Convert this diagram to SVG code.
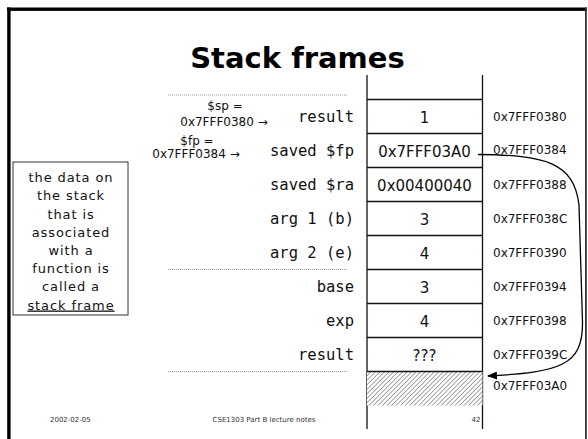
<svg xmlns="http://www.w3.org/2000/svg" width="588" height="439" viewBox="0 0 588 439">
  <defs>
    <pattern id="hatch" width="3.2" height="3.2" patternUnits="userSpaceOnUse" patternTransform="rotate(45)">
      <rect width="3.2" height="3.2" fill="#ffffff"/>
      <line x1="0" y1="0" x2="0" y2="3.2" stroke="#808080" stroke-width="1.4"/>
    </pattern>
    <marker id="arrowhead" markerWidth="10" markerHeight="8" refX="9" refY="4" orient="auto" markerUnits="userSpaceOnUse">
      <path d="M0,0 L10,4 L0,8 Z" fill="#000"/>
    </marker>
  </defs>
  <style>
    .title { font-family: "DejaVu Sans", sans-serif; font-weight: bold; font-size: 29px; fill: #000; }
    .val { font-family: "DejaVu Sans", sans-serif; font-size: 15px; fill: #111; text-anchor: middle; }
    .lbl { font-family: "DejaVu Sans Mono", monospace; font-size: 15.5px; fill: #111; text-anchor: end; }
    .addr { font-family: "DejaVu Sans", sans-serif; font-size: 12px; fill: #111; }
    .ptr { font-family: "DejaVu Sans", sans-serif; font-size: 12px; fill: #111; text-anchor: middle; }
    .note { font-family: "DejaVu Sans", sans-serif; font-size: 13px; letter-spacing: 0.9px; fill: #111; text-anchor: middle; }
    .foot { font-family: "DejaVu Sans", sans-serif; font-size: 7px; fill: #333; }
    .dots { stroke: #999; stroke-width: 1; stroke-dasharray: 1 1; }
  </style>

  <rect width="588" height="439" fill="#ffffff"/>

  <!-- slide frame -->
  <g id="frame">
    <rect x="7" y="7.5" width="580" height="3.4" fill="#000"/>
    <rect x="7.2" y="7.5" width="3.4" height="432" fill="#000"/>
    <rect x="585" y="7.5" width="1.8" height="432" fill="#333"/>
  </g>

  <text class="title" x="297.5" y="68" text-anchor="middle">Stack frames</text>

  <!-- stack column -->
  <g id="stack">
    <line x1="367" y1="75" x2="367" y2="429" stroke="#111" stroke-width="1.3"/>
    <line x1="482.5" y1="75" x2="482.5" y2="429" stroke="#111" stroke-width="1.3"/>
    <rect x="367" y="371.5" width="115.5" height="34" fill="url(#hatch)"/>
    <g stroke="#111" stroke-width="1.3">
      <line x1="367" y1="99.5" x2="482.5" y2="99.5"/>
      <line x1="367" y1="133.5" x2="482.5" y2="133.5"/>
      <line x1="367" y1="167.5" x2="482.5" y2="167.5"/>
      <line x1="367" y1="201.5" x2="482.5" y2="201.5"/>
      <line x1="367" y1="235.5" x2="482.5" y2="235.5"/>
      <line x1="367" y1="269.5" x2="482.5" y2="269.5"/>
      <line x1="367" y1="303.5" x2="482.5" y2="303.5"/>
      <line x1="367" y1="337.5" x2="482.5" y2="337.5"/>
      <line x1="367" y1="371.5" x2="482.5" y2="371.5"/>
    </g>
  </g>

  <g id="cell-result"><text class="val" x="424.5" y="122.5">1</text><text class="lbl" x="354" y="122">result</text><text class="addr" x="493" y="120.5">0x7FFF0380</text></g>
  <g id="cell-saved-fp"><text class="val" x="424.5" y="156.5">0x7FFF03A0</text><text class="lbl" x="354" y="156">saved $fp</text><text class="addr" x="493" y="154">0x7FFF0384</text></g>
  <g id="cell-saved-ra"><text class="val" x="424.5" y="190.5">0x00400040</text><text class="lbl" x="354" y="190">saved $ra</text><text class="addr" x="493" y="188.5">0x7FFF0388</text></g>
  <g id="cell-arg1"><text class="val" x="424.5" y="224.5">3</text><text class="lbl" x="354" y="224">arg 1 (b)</text><text class="addr" x="493" y="222.5">0x7FFF038C</text></g>
  <g id="cell-arg2"><text class="val" x="424.5" y="258.5">4</text><text class="lbl" x="354" y="258">arg 2 (e)</text><text class="addr" x="493" y="256.5">0x7FFF0390</text></g>
  <g id="cell-base"><text class="val" x="424.5" y="292.5">3</text><text class="lbl" x="354" y="292">base</text><text class="addr" x="493" y="290.5">0x7FFF0394</text></g>
  <g id="cell-exp"><text class="val" x="424.5" y="326.5">4</text><text class="lbl" x="354" y="326">exp</text><text class="addr" x="493" y="324.5">0x7FFF0398</text></g>
  <g id="cell-result2"><text class="val" x="424.5" y="360.5">???</text><text class="lbl" x="354" y="360">result</text><text class="addr" x="493" y="358.5">0x7FFF039C</text></g>
  <g id="cell-caller"><text class="addr" x="493" y="390">0x7FFF03A0</text></g>

  <!-- frame boundaries -->
  <g id="boundaries">
    <line class="dots" x1="168" y1="95" x2="347" y2="95"/>
    <line class="dots" x1="168" y1="269.5" x2="347" y2="269.5"/>
    <line class="dots" x1="168" y1="371.5" x2="347" y2="371.5"/>
  </g>

  <!-- register pointers -->
  <g id="sp-pointer">
    <text class="ptr" x="225" y="110">$sp =</text>
    <text class="ptr" x="224" y="126">0x7FFF0380 →</text>
  </g>
  <g id="fp-pointer">
    <text class="ptr" x="197" y="145">$fp =</text>
    <text class="ptr" x="196" y="158">0x7FFF0384 →</text>
  </g>

  <!-- explanatory note -->
  <g id="note">
    <rect x="13" y="162" width="115" height="153" fill="#fff" stroke="#333" stroke-width="1"/>
    <text class="note" x="71" y="181.5">the data on</text>
    <text class="note" x="71" y="200">the stack</text>
    <text class="note" x="71" y="218.5">that is</text>
    <text class="note" x="71" y="237">associated</text>
    <text class="note" x="71" y="255">with a</text>
    <text class="note" x="71" y="273">function is</text>
    <text class="note" x="71" y="291">called a</text>
    <text class="note" x="71" y="309.5" text-decoration="underline">stack frame</text>
  </g>

  <!-- saved frame pointer link -->
  <g id="connectors">
    <path d="M478,154.5 C545,155 574,162 579,205 L582.5,322 C583,366 560,372 488,376" fill="none" stroke="#000" stroke-width="1.3" marker-end="url(#arrowhead)"/>
  </g>

  <!-- footer -->
  <g id="footer">
    <text class="foot" x="50" y="422">2002-02-05</text>
    <text class="foot" x="264" y="422" text-anchor="middle">CSE1303 Part B lecture notes</text>
    <text class="foot" x="476" y="422" text-anchor="middle">42</text>
  </g>
</svg>
